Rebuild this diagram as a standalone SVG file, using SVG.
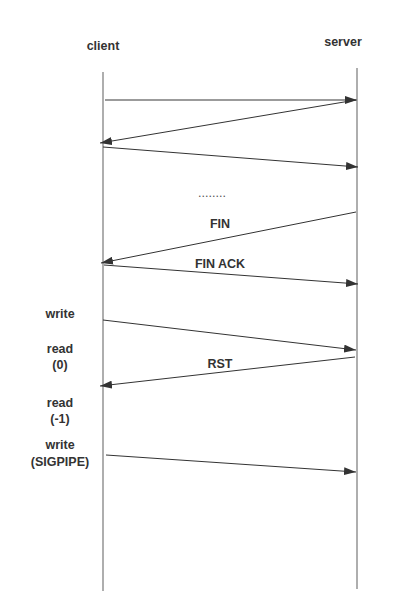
<svg xmlns="http://www.w3.org/2000/svg" width="409" height="616" viewBox="0 0 409 616">
<defs>
<style>
.life{stroke:#9a9a9a;stroke-width:1.6;fill:none}
.msg{stroke:#333;stroke-width:1;fill:none}
.msg1{stroke:#7a7a7a;stroke-width:1.6;fill:none}
text{font-family:"Liberation Sans",Arial,sans-serif;font-weight:bold;font-size:12.5px;fill:#333;text-anchor:middle}
.dots{font-weight:normal;fill:#555}
</style>
<marker id="ah" viewBox="0 0 12 8" refX="12" refY="4" markerWidth="12" markerHeight="8" markerUnits="userSpaceOnUse" orient="auto">
<path d="M0,0 L12,4 L0,8 Z" fill="#333"/>
</marker>
</defs>
<rect width="409" height="616" fill="#fff"/>
<g id="client">
<line class="life" x1="103" y1="72" x2="103" y2="591"/>
<text x="103" y="50">client</text>
</g>
<g id="server">
<line class="life" x1="357" y1="68" x2="357" y2="589"/>
<text x="343" y="46">server</text>
</g>
<g id="labels">
<text class="dots" x="212" y="197">........</text>
<text x="220" y="228">FIN</text>
<text x="220" y="268">FIN ACK</text>
<text x="220" y="368">RST</text>
<text x="60" y="318">write</text>
<text x="60" y="353">read</text>
<text x="60" y="369">(0)</text>
<text x="60" y="407">read</text>
<text x="60" y="423">(-1)</text>
<text x="60" y="449">write</text>
<text x="60" y="466">(SIGPIPE)</text>
</g>
<g id="connectors">
<line class="msg1" x1="105" y1="100" x2="357" y2="100" marker-end="url(#ah)"/>
<line class="msg" x1="356" y1="100" x2="100" y2="143" marker-end="url(#ah)"/>
<line class="msg" x1="103" y1="147" x2="358" y2="167" marker-end="url(#ah)"/>
<line class="msg" x1="356" y1="212" x2="101" y2="263" marker-end="url(#ah)"/>
<line class="msg" x1="104" y1="265" x2="358" y2="284" marker-end="url(#ah)"/>
<line class="msg" x1="103" y1="320" x2="356" y2="350" marker-end="url(#ah)"/>
<line class="msg" x1="355" y1="357" x2="100" y2="386" marker-end="url(#ah)"/>
<line class="msg" x1="106" y1="455" x2="356" y2="472" marker-end="url(#ah)"/>
</g>
</svg>
